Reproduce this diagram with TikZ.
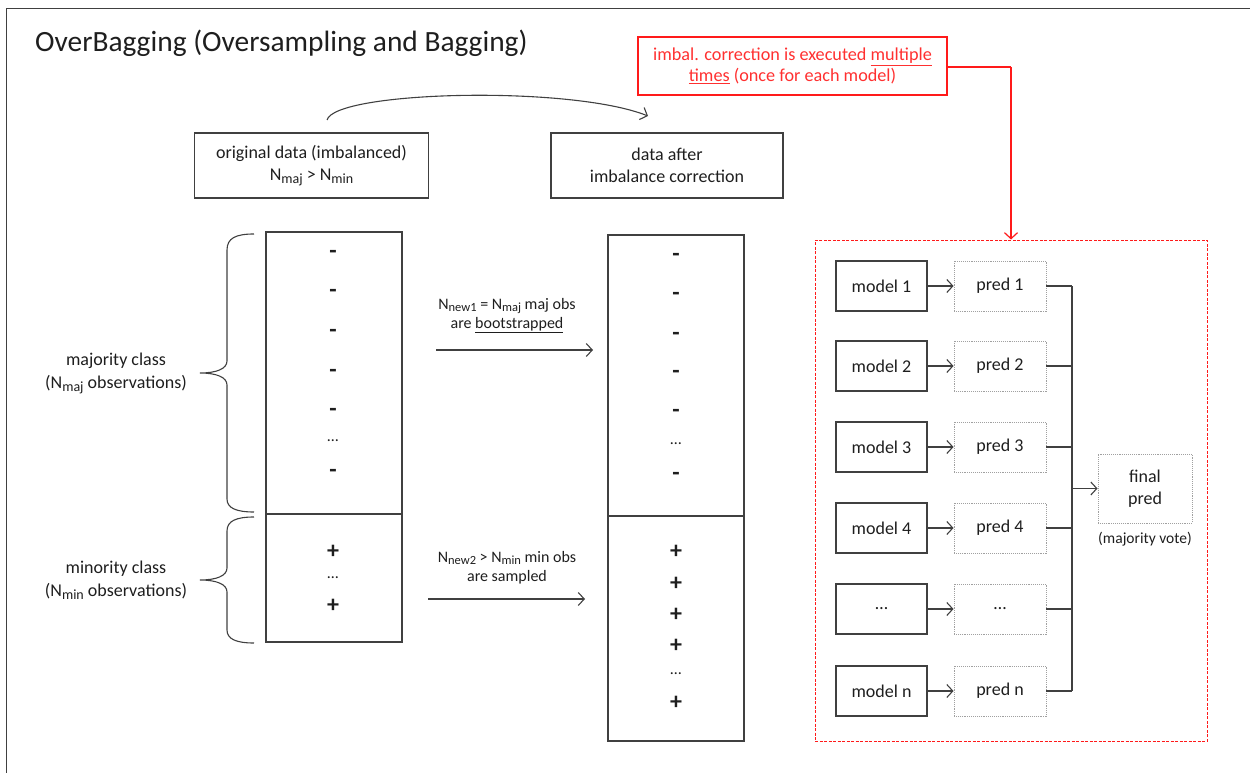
\documentclass[tikz,border=0pt]{standalone}
\usepackage{fontspec}
\usepackage{graphicx}
\setmainfont{Carlito}
\usetikzlibrary{arrows.meta}
\definecolor{lineg}{HTML}{404040}
\definecolor{txt}{HTML}{1E1E1E}
\definecolor{redl}{HTML}{FF1A1A}
\definecolor{redt}{HTML}{FF3030}
\definecolor{dotg}{HTML}{A0A0A0}
\newcommand{\sbs}[1]{\raisebox{-0.35ex}{\scalebox{0.78}{#1}}}
\begin{document}
\begin{tikzpicture}[x=1pt,y=-1pt,
  body/.style={font=\fontsize{18}{22}\selectfont, text=txt, align=center, inner sep=0pt},
  small/.style={font=\fontsize{16}{19}\selectfont, text=txt, align=center, inner sep=0pt},
  box/.style={draw=lineg, line width=1.2pt, body},
  predbox/.style={draw=dotg, densely dotted, line width=0.9pt, body},
  sign/.style={font=\fontsize{24}{24}\selectfont\bfseries, text=txt, inner sep=0pt},
  arr/.style={draw=lineg, line width=1.1pt, -{Straight Barb[length=6pt,width=13pt,line width=1.1pt]}},
  conn/.style={draw=lineg, line width=1.1pt},
  brace/.style={draw=lineg, line width=1.1pt}
]
\useasboundingbox (0,0) rectangle (1250,773);
% frame
\draw[lineg, line width=1.6pt] (6.5,773) -- (6.5,8.5) -- (1250,8.5);
% title
\node[anchor=west, font=\fontsize{29.4}{32}\selectfont, text=txt, inner sep=0pt] (title) at (35,43) {OverBagging (Oversampling and Bagging)};

% top boxes
\node[box, minimum width=234pt, minimum height=65pt] (orig) at (311.5,165.5) {original data (imbalanced)\\N\sbs{maj} > N\sbs{min}};
\node[box, minimum width=232pt, minimum height=65pt] (after) at (667,165.5) {data after\\imbalance correction};

% curved arrow
\coordinate (cs) at (327,120);
\coordinate (ce) at (648,116);
\draw[arr] (cs) .. controls (335,91) and (570,85) .. (ce);

% red note
\node[draw=redl, line width=1.2pt, minimum width=309pt, minimum height=58pt, font=\fontsize{18.2}{21}\selectfont, text=redt, align=center, inner sep=0pt] (note) at (792.5,66) {imbal. correction is executed \underline{multiple}\\\underline{times} (once for each model)};

% left column
\node[draw=lineg, line width=1.2pt, minimum width=136pt, minimum height=282pt, inner sep=0pt] (amaj) at (334,373) {};
\node[draw=lineg, line width=1.2pt, minimum width=136pt, minimum height=128pt, inner sep=0pt] (amin) at (334,578) {};
\foreach \y [count=\i] in {254,293,333,373,412,473} {\node[sign] (am\i) at (333,\y) {-};}
\node[small] (adots) at (333,441) {…};
\node[sign] (ap1) at (333,552) {+};
\node[small] (apdots) at (333,578) {…};
\node[sign] (ap2) at (333,606) {+};

% braces
\draw[brace] (254,234) .. controls (236,234) and (227,238) .. (227,250) -- (227,361) .. controls (227,369) and (216,373) .. (200,373) .. controls (216,373) and (227,377) .. (227,385) -- (227,499) .. controls (227,508) and (236,512) .. (254,512);
\draw[brace] (254,517) .. controls (236,517) and (227,521) .. (227,531) -- (227,568) .. controls (227,576) and (216,580) .. (200,580) .. controls (216,580) and (227,584) .. (227,592) -- (227,630) .. controls (227,639) and (236,643) .. (254,643);
\node[body, font=\fontsize{18}{23}\selectfont] (majlab) at (116,373.5) {majority class\\(N\sbs{maj} observations)};
\node[body, font=\fontsize{18}{23}\selectfont] (minlab) at (116,580.5) {minority class\\(N\sbs{min} observations)};

% right column
\node[draw=lineg, line width=1.2pt, minimum width=136pt, minimum height=281pt, inner sep=0pt] (bmaj) at (676,375.5) {};
\node[draw=lineg, line width=1.2pt, minimum width=136pt, minimum height=225pt, inner sep=0pt] (bmin) at (676,628.5) {};
\foreach \y [count=\i] in {257,296,336,374,413,476} {\node[sign] (bm\i) at (676,\y) {-};}
\node[small] (bdots) at (676,444) {…};
\foreach \y [count=\i] in {552,584,615,646,703} {\node[sign] (bp\i) at (676,\y) {+};}
\node[small] (bpdots) at (676,674) {…};

% middle arrows
\coordinate (a1s) at (436,350);
\coordinate (a1e) at (593,350);
\draw[arr] (a1s) -- (a1e);
\node[small] (a1lab) at (507,315.5) {N\sbs{new1} = N\sbs{maj} maj obs\\are \underline{bootstrapped}};
\coordinate (a2s) at (428,599);
\coordinate (a2e) at (585,599);
\draw[arr] (a2s) -- (a2e);
\node[small] (a2lab) at (507,567.5) {N\sbs{new2} > N\sbs{min} min obs\\are sampled};

% ensemble panel
\node[draw=redl, dash pattern=on 3pt off 1.5pt, line width=1pt, minimum width=392pt, minimum height=501pt, inner sep=0pt] (panel) at (1011,490.5) {};
\coordinate (nr) at (1011,67);
\draw[redl, line width=1.2pt] (note.east |- nr) -- (nr);
\draw[redl, line width=1.2pt, -{Straight Barb[length=6pt,width=13pt,line width=1.2pt]}] (nr) -- (panel.north);

\foreach \y/\m/\p [count=\i] in {286/model 1/pred 1, 366/model 2/pred 2, 447/model 3/pred 3, 528/model 4/pred 4, 609/…/…, 691/model n/pred n} {
  \node[box, minimum width=91pt, minimum height=50pt] (m\i) at (881.5,\y) {\m};
  \node[predbox, minimum width=92pt, minimum height=50pt] (p\i) at (1000,\y) {\p};
  \draw[arr] (m\i.east) -- (p\i.west);
  \coordinate (j\i) at (1072,\y);
  \draw[conn] (p\i.east) -- (j\i);
}
\draw[conn] (j1) -- (j6);
\node[predbox, minimum width=94pt, minimum height=69pt] (final) at (1145,488.5) {final\\pred};
\coordinate (jf) at (1072,488.5);
\draw[arr] (jf) -- (final.west);
\node[font=\fontsize{15.5}{16}\selectfont, text=txt, inner sep=0pt] (vote) at (1145,539) {(majority vote)};
\end{tikzpicture}
\end{document}
